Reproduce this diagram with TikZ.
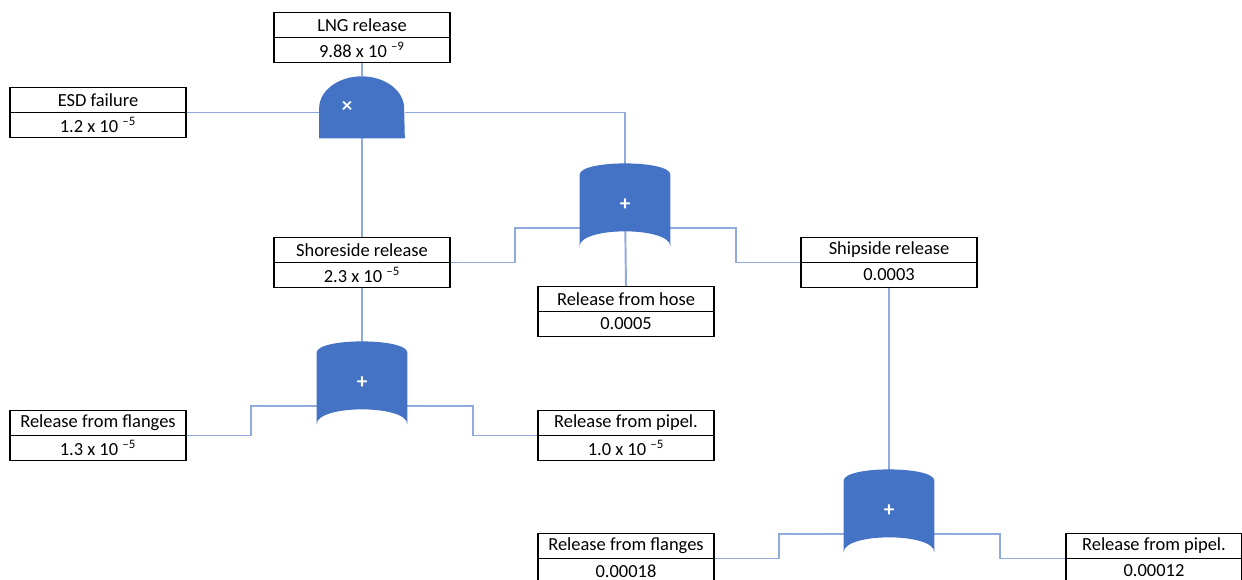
\documentclass[tikz,border=0pt]{standalone}
\usepackage{fontspec}
\setmainfont{Carlito}
\usetikzlibrary{positioning,calc,backgrounds}
\definecolor{gateblue}{RGB}{68,114,196}
\definecolor{wireblue}{RGB}{143,170,220}
\tikzstyle{event} = [draw=black, line width=0.8pt, rectangle, minimum width=3.52cm, minimum height=0.5cm, inner sep=0pt, outer sep=0pt, font=\fontsize{10.5}{12}\selectfont]
\tikzstyle{gatebox} = [rectangle, minimum width=1.8cm, minimum height=1.64cm, inner sep=0pt, text=white, font=\large\bfseries]
\tikzstyle{gatesym} = [text=white, font=\large\bfseries]
\tikzstyle{wire} = [draw=wireblue, line width=1.1pt]
\tikzstyle{gatefill} = [fill=gateblue]
\newcommand{\orshape}[1]{%
  \fill[gatefill] ($(#1.north west)+(0,-11)$) .. controls ($(#1.north west)+(0,4)$) and ($(#1.north east)+(0,4)$) .. ($(#1.north east)+(0,-11)$)
    -- (#1.south east) .. controls ($(#1.south east)+(0,20)$) and ($(#1.south west)+(0,20)$) .. (#1.south west) -- cycle;}

\begin{document}
\begin{tikzpicture}[x=0.02cm, y=0.02cm]
	\useasboundingbox (0,0) rectangle (1242,-580);

	\node[event] (lng) at (362,-25) {LNG release};
	\node[event, below=0pt of lng] (lngv) {9.88 x 10 \textsuperscript{–9}};
	\node[event] (esd) at (98,-100) {ESD failure};
	\node[event, below=0pt of esd] (esdv) {1.2 x 10 \textsuperscript{–5}};
	\node[event] (shore) at (362,-250) {Shoreside release};
	\node[event, below=0pt of shore] (shorev) {2.3 x 10 \textsuperscript{–5}};
	\node[event] (hose) at (626,-299) {Release from hose};
	\node[event, below=0pt of hose] (hosev) {0.0005};
	\node[event] (ship) at (889,-250) {Shipside release};
	\node[event, below=0pt of ship] (shipv) {0.0003};
	\node[event] (flshore) at (98,-423) {Release from flanges};
	\node[event, below=0pt of flshore] (flshorev) {1.3 x 10 \textsuperscript{–5}};
	\node[event] (ppshore) at (626,-423) {Release from pipel.};
	\node[event, below=0pt of ppshore] (ppshorev) {1.0 x 10 \textsuperscript{–5}};
	\node[event] (flship) at (626,-546) {Release from flanges};
	\node[event, below=0pt of flship] (flshipv) {0.00018};
	\node[event] (ppship) at (1154,-546) {Release from pipel.};
	\node[event, below=0pt of ppship] (ppshipv) {0.00012};

	\node[gatebox, minimum width=1.7cm, minimum height=1.24cm, label={[gatesym, xshift=-0.3cm]center:×}] (andg) at (362,-107) {};
	\node[gatebox] (or1) at (625,-205) {+};
	\node[gatebox] (or2) at (362,-383) {+};
	\node[gatebox] (or3) at (889,-511) {+};
	\foreach \g in {or1,or2,or3}{
		\coordinate (\g-l) at ($(\g.south west)+(0,18)$);
		\coordinate (\g-r) at ($(\g.south east)+(0,18)$);
	}

	\begin{pgfonlayer}{background}
		\draw[wire] (lngv.south) -- (andg.north);
		\draw[wire] (esd.south east) -- (esd.south east -| andg.west);
		\draw[wire] (esd.south east -| andg.east) -| (or1.north);
		\draw[wire] (andg.south) -- (shore.north);
		\draw[wire] (shore.south east) -| ($(shore.south east)!0.5!(or1-l)$) |- (or1-l);
		\draw[wire] (or1-r) -| ($(or1-r)!0.5!(ship.south west)$) |- (ship.south west);
		\draw[wire] (or1.center) -- (hose.north);
		\draw[wire] (shorev.south) -- (or2.north);
		\draw[wire] (flshore.south east) -| ($(flshore.south east)!0.5!(or2-l)$) |- (or2-l);
		\draw[wire] (or2-r) -| ($(or2-r)!0.5!(ppshore.south west)$) |- (ppshore.south west);
		\draw[wire] (shipv.south) -- (or3.north);
		\draw[wire] (flship.south east) -| ($(flship.south east)!0.5!(or3-l)$) |- (or3-l);
		\draw[wire] (or3-r) -| ($(or3-r)!0.5!(ppship.south west)$) |- (ppship.south west);

		\fill[gatefill] (andg.south west) -- ($(andg.south west)+(0,30)$) arc[start angle=180, end angle=0, x radius=0.85cm, y radius=0.64cm] -- (andg.south east) -- cycle;
		\orshape{or1}
		\orshape{or2}
		\orshape{or3}
	\end{pgfonlayer}
\end{tikzpicture}
\end{document}
